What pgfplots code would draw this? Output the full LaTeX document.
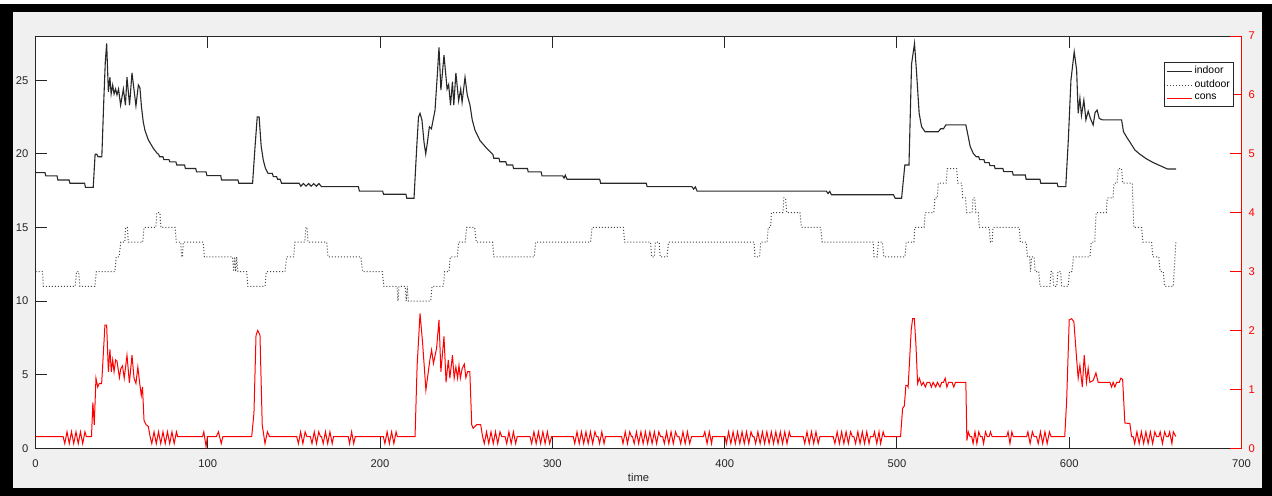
\documentclass[border=0pt]{standalone}
\usepackage{fontspec}
\setmainfont{Liberation Sans}
\usepackage{pgfplots}
\pgfplotsset{compat=1.18}

\definecolor{figbg}{RGB}{240,240,240}
\definecolor{axgray}{RGB}{38,38,38}
\definecolor{consred}{RGB}{255,0,0}
\definecolor{indoorc}{RGB}{40,40,40}
\definecolor{outdoorc}{RGB}{70,70,70}

\newcommand{\tickfont}{\fontsize{5.6}{6.2}\selectfont}
\newcommand{\legfont}{\fontsize{5.2}{5.8}\selectfont}

\pgfplotsset{
  indoorstyle/.style={indoorc, line width=0.55pt},
  outdoorstyle/.style={outdoorc, line width=0.5pt, dash pattern=on 0.5pt off 1pt},
  consstyle/.style={consred, line width=0.5pt},
  common/.style={
    scale only axis, width=603pt, height=206.15pt,
    at={(17.75pt,23.85pt)}, anchor=south west,
    xmin=0, xmax=700,
    tick align=inside, major tick length=5.85pt,
    /pgf/number format/assume math mode=true,
    tick label style={font=\tickfont},
  },
}

\begin{document}
\begin{tikzpicture}
% window frame and figure background
\fill[white] (0pt,0pt) rectangle (636pt,248pt);
\fill[black] (0pt,0pt) rectangle (636pt,246pt);
\fill[figbg] (6.5pt,4pt) rectangle (631pt,242pt);

% left axis: temperatures
\begin{axis}[common,
  axis background/.style={fill=white},
  ymin=0, ymax=28,
  xtick={0,100,...,700}, ytick={0,5,...,25},
  xtick pos=both, ytick pos=left,
  axis line style={axgray, line width=0.45pt},
  tick style={axgray, line width=0.45pt},
  ticklabel style={text=axgray},
  xticklabel style={yshift=-2.4pt},
  xlabel={time},
  xlabel style={font=\tickfont, text=axgray, at={(axis description cs:0.5,0)}, anchor=center, yshift=-14.35pt},
]
\addplot[indoorstyle] coordinates {
(0,18.72) (5.5,18.72) (6,18.5) (12.5,18.5) (13,18.22) (19.5,18.22) (20,18.0) (28.5,18.0) (29,17.72) (33.5,17.72)
(34.6,19.97) (35.6,19.97) (36.3,19.8) (38.5,19.8) (39.6,23.5) (40.5,26.2) (41.3,27.5) (42.3,24.2) (43.2,25.2) (43.9,24.06)
(44.8,24.67) (45.6,24.06) (46.5,24.4) (47.3,24.0) (48.2,24.4) (49.4,23.3) (51,24.4) (52.2,23.3) (53.1,25.2) (54.6,23.3)
(56,25.5) (58.3,23.25) (59.7,24.67) (60.6,24.5) (61.5,23.2) (62.5,22.2) (63.5,21.6) (65.5,20.94) (68.4,20.37) (70.5,20.05)
(71.5,19.95) (72,19.8) (74,19.8) (74.5,19.6) (77.5,19.6) (78,19.45) (81.5,19.45) (82,19.24) (86.5,19.24) (87,19.0)
(93,19.0) (93.5,18.77) (99,18.77) (99.5,18.52) (107.5,18.52) (108,18.22) (117.5,18.22) (118,18.0) (126,18.0) (127.5,20.6)
(128.7,22.5) (129.8,22.5) (131,20.5) (132.2,19.58) (133.5,19.0) (135,18.67) (137.5,18.67) (138,18.45) (140,18.45) (140.5,18.27)
(142,18.27) (142.8,18.0) (153,18.0) (154,17.8) (155.5,17.98) (157,17.8) (158.5,17.98) (160,17.8) (161.5,17.98) (163,17.8)
(164.5,17.98) (166,17.77) (187.4,17.77) (188,17.47) (201.5,17.47) (202,17.25) (215,17.25) (215.5,16.98) (219.7,16.98) (221.3,20.5)
(222.3,22.5) (223.2,22.75)
(224.3,22.3) (225.5,20.8) (226.5,19.99) (227.5,20.8) (228.6,21.84) (229.8,21.7) (231.9,22.97) (233.3,25.5) (234.2,27.23) (235.3,24.33)
(237.1,26.7) (238.9,24.4) (239.8,24.7) (240.9,23.3) (242,24.9) (242.8,23.3) (244,25.5) (245.6,23.6) (246.8,24.4) (247.6,23.5)
(249.3,25.2) (250.6,24.0) (252.2,23.3) (253.5,22.3) (255.1,21.6) (258,20.9) (261.9,20.37) (265.5,19.95) (266,19.7) (269,19.7)
(269.5,19.46) (273,19.46) (273.5,19.24) (277,19.24) (277.5,19.0) (285.5,19.0) (286,18.77) (293.5,18.77) (294,18.5) (306,18.5)
(306.8,18.35) (307.5,18.55) (308.5,18.27) (327.5,18.27) (328,18.0) (354.5,18.0) (355,17.77) (381,17.77) (382,17.6) (383,17.75)
(384,17.47) (459,17.47) (460,17.3) (461,17.45) (462,17.22) (498,17.22) (499,16.98) (502.7,16.98) (504.6,19.24) (507,19.24)
(508.5,26.1) (510.2,27.5) (511.4,25.5) (512.9,22.75) (514.3,21.84) (516.3,21.5) (524,21.5) (525.4,21.7) (527,21.7) (528.4,21.96)
(540,21.96) (541.4,21.16) (542.5,20.5) (544.3,20.03) (546,19.8) (547.5,19.8) (548,19.6) (550.5,19.6) (551,19.4) (553.5,19.4)
(554,19.2) (556.5,19.2) (557,19.0) (561.5,19.0) (562,18.79) (567,18.79) (567.5,18.56) (574.5,18.56) (575,18.27) (583,18.27)
(583.5,18.0) (593,18.0) (593.5,17.77) (598,17.77) (599.5,21) (601,25) (602.9,26.93) (604.3,25.7) (605.2,22.75) (606.2,23.77)
(607.1,22.6) (608.5,23.65) (609.7,22.3) (611,22.9) (612.3,22.4) (613.9,21.96) (615,22.8) (616.2,22.97) (617.4,22.4) (619.4,22.3)
(630.4,22.3) (631.5,21.5) (633.5,21.1) (635.2,20.8) (638.1,20.26) (641,19.97) (644.9,19.65) (648.8,19.4) (652.6,19.2) (657,18.97)
(662,18.97)
};
\addplot[outdoorstyle] coordinates {
(0,12) (4,12) (4.6,11) (23,11) (23.8,12) (25,12) (25.8,11) (34.5,11) (35.3,12) (46.1,12)
(46.8,13) (48.5,13) (49.5,14) (51.8,14) (52.3,15) (53.3,15) (53.9,14) (62.2,14) (63,15) (69.8,15)
(70.4,16) (72.2,16) (72.8,15) (81,15) (81.8,14) (84.3,14) (84.8,13) (85.3,13) (85.8,14) (97.4,14)
(98,13) (114.4,13) (115,12) (115.6,13) (116.2,12) (116.8,13) (117.5,12) (122.6,12) (123.3,11) (133.2,11)
(134,12) (144.8,12) (145.8,13) (149.8,13) (150.6,14) (156.3,14) (157,15) (157.6,15) (158.2,14) (169,14)
(169.8,13) (188.9,13) (189.8,12) (201.3,12) (202.2,11) (209.8,11) (210.4,10) (211,11) (214.6,11) (215.2,10)
(215.8,11) (216.4,10) (229.4,10) (230.2,11) (236.7,11) (237.5,12) (240,12) (240.8,13) (244.8,13) (245.5,14)
(249.4,14) (250.2,15) (254.9,15) (255.8,14) (265.3,14) (266,13) (289.5,13) (290.3,14) (322.2,14) (323,15)
(341.2,15) (342,14) (357,14) (357.6,13) (359.2,13) (359.8,14) (362,14) (362.6,13) (366.6,13) (367.4,14)
(417.1,14) (417.6,13) (420.2,13) (421,14) (424.6,14) (425.3,15) (426.6,15) (427.2,16) (433.8,16) (434.4,17)
(435.4,17) (436,16) (443.7,16) (444.6,15) (455.7,15) (456.6,14) (486.2,14) (486.7,13) (488.6,13) (489.2,14)
(491.6,14) (492.4,13) (504.6,13) (505.4,14) (509.8,14) (510.4,15) (515.8,15) (516.4,16) (521.4,16) (522,17)
(523.4,17) (524,18) (528.6,18) (529.2,19) (534.6,19) (535.3,18) (537.6,18) (538.2,17) (539.8,17) (540.5,16)
(543.6,16) (544.2,17) (545.2,17) (545.8,16) (547.2,16) (547.8,15) (553.6,15) (554.2,14) (555.2,14) (555.8,15)
(571,15) (571.6,14) (575.1,14) (575.7,13) (577,13) (577.5,12) (578.2,13) (579.6,13) (580.2,12) (582.4,12)
(583,11) (588.8,11) (589.5,12) (590.4,12) (591,11) (592.8,11) (593.4,12) (595,12) (595.6,11) (599.4,11)
(600.2,12) (601.6,12) (602.4,13) (612,13) (612.8,14) (614.8,14) (615.6,16) (621.5,16) (622.1,17) (625.4,17)
(626,18) (627.8,18) (628.5,19) (630.4,19) (631.1,18) (636.6,18) (637.5,15) (642,15) (642.8,14) (647.8,14)
(648.6,13) (652,13) (652.8,12) (654.6,12) (655.4,11) (660.4,11) (661.9,14)
};
\end{axis}

% right axis: consumption
\begin{axis}[common,
  ymin=0, ymax=7, ytick={0,1,...,7},
  axis x line=none, axis y line*=right,
  y axis line style={consred, line width=0.45pt},
  ytick style={consred, line width=0.45pt},
  yticklabel style={text=consred},
  legend style={at={(0.994,0.937)}, anchor=north east, draw=axgray, line width=0.4pt,
    fill=white, font=\legfont, inner xsep=1pt, inner ysep=1pt, row sep=-0.4pt,
    nodes={inner sep=1pt}},
  legend cell align=left,
  legend image code/.code={\draw[#1] (0pt,0pt) -- (12.5pt,0pt);},
]
\addlegendimage{indoorstyle}
\addlegendentry{indoor}
\addlegendimage{outdoorstyle}
\addlegendentry{outdoor}
\addplot[consstyle] coordinates {
(0,0.2) (16,0.2) (17,0.08) (18.3,0.28) (19.6,0.08) (20.9,0.28) (22.2,0.08) (23.5,0.28) (24.8,0.08) (26.1,0.28)
(27.4,0.08) (28.7,0.28) (29.5,0.2) (32.5,0.2) (33.3,0.78) (34.1,0.40) (35.1,1.19) (36.1,1.04) (37,1.1) (38.4,1.1)
(40.3,2.09) (41.3,2.09) (42.3,1.30) (43.2,1.68) (44,1.30) (44.8,1.50) (45.6,1.30) (46.5,1.50) (47.3,1.48) (48.7,1.2)
(49.5,1.35) (50.5,1.40) (51.5,1.19) (53.1,1.58) (54.5,1.11) (56,1.58) (57.2,1.19) (58.3,1.1) (59.4,1.38) (60.5,1.1)
(61.4,0.9) (62.1,1.04) (63,0.47) (64.2,0.40) (65.5,0.37) (66.5,0.2) (67.5,0.08) (68.8,0.28) (70.1,0.08) (71.4,0.28)
(72.7,0.08) (74,0.28) (75.3,0.08) (76.6,0.28) (77.9,0.08) (79.2,0.28) (80.5,0.08) (81.8,0.28) (82.5,0.2) (97,0.2)
(97.7,0.28) (99,0.03) (99.8,0.2) (105,0.2) (106.2,0.28) (107.8,0.08) (108.8,0.2) (125.5,0.2) (126.8,0.6) (128,1.92)
(129,2.0) (130.3,1.92) (131.6,0.4) (133.2,0.08) (134.6,0.28) (135.8,0.2) (151.6,0.2) (152.6,0.08) (153.9,0.28) (155.2,0.08)
(156.5,0.28) (157.5,0.2) (159.5,0.2) (160.5,0.08) (161.8,0.28) (163.1,0.08) (164.4,0.28) (165.4,0.2) (166,0.2) (167,0.08)
(168.3,0.28) (169.6,0.08) (170.9,0.28) (172.2,0.08) (173,0.2) (181.5,0.2) (182.3,0.08) (183.5,0.28) (184.7,0.08) (185.6,0.2)
(201.9,0.2) (202.8,0.08) (204.1,0.28) (205.4,0.08) (206.7,0.28) (208,0.08) (209.3,0.28) (210,0.2) (220.3,0.2) (221.5,1.4)
(223.2,2.29) (224.7,1.78) (226.6,0.99) (228.9,1.5) (229.9,1.67) (231,1.44) (232.8,1.70) (234.2,2.18) (235.3,1.30) (237.1,1.9)
(238.3,1.12) (239.6,1.5) (240.5,1.19) (242,1.58) (243,1.19) (244,1.38) (245,1.19) (245.8,1.41) (246.6,1.19) (247.6,1.35)
(248.9,1.43) (249.8,1.2) (250.8,1.3) (252.1,1.3) (253.2,0.4) (254,0.34) (256,0.40) (258.4,0.40) (259.5,0.2) (260.5,0.08)
(261.8,0.28) (263.1,0.08) (264.4,0.28) (265.7,0.08) (267,0.28) (268.3,0.08) (269.6,0.28) (270.6,0.2) (272.5,0.2) (273.5,0.08)
(274.8,0.28) (276.1,0.08) (277.4,0.28) (278.7,0.08) (279.6,0.2) (287,0.2) (288,0.08) (289.3,0.28) (290.6,0.08) (291.9,0.28)
(293.2,0.08) (294.5,0.28) (295.8,0.08) (297.1,0.28) (298.4,0.08) (299.6,0.2) (312.1,0.2) (313,0.08) (314.3,0.28) (315.6,0.08)
(316.9,0.28) (318.2,0.08) (319.5,0.28) (320.8,0.08) (322.1,0.28) (323.4,0.08) (324.7,0.28) (325.6,0.2) (326.5,0.2) (327.4,0.08)
(328.7,0.28) (330,0.08) (330.8,0.2) (340.2,0.2) (341,0.08) (342.3,0.28) (343.6,0.08) (344.9,0.28) (345.9,0.2) (346.5,0.2)
(347.5,0.08) (348.8,0.28) (350.1,0.08) (351.4,0.28) (352.7,0.08) (354,0.28) (355.3,0.08) (356.6,0.28) (357.9,0.08) (359.2,0.28)
(360.5,0.08) (361.8,0.28) (362.8,0.2) (364,0.2) (365,0.08) (366.3,0.28) (367.6,0.08) (368.9,0.28) (370.2,0.08) (371.5,0.28)
(372.5,0.2) (373.5,0.2) (374.5,0.08) (375.8,0.28) (377.1,0.08) (378.4,0.28) (379.7,0.08) (380.8,0.2) (387.6,0.2) (388.5,0.28)
(389.8,0.08) (391.1,0.28) (392.4,0.08) (393,0.2) (400.2,0.2) (401,0.08) (402.3,0.28) (403.6,0.08) (404.9,0.28) (406.2,0.08)
(407.5,0.28) (408.8,0.08) (410.1,0.28) (411.4,0.08) (412.7,0.28) (414,0.08) (415.3,0.28) (416.3,0.2) (417,0.2) (418,0.08)
(419.3,0.28) (420.6,0.08) (421.9,0.28) (423.2,0.08) (424.5,0.28) (425.8,0.08) (427.1,0.28) (428.4,0.08) (429.7,0.28) (431,0.08)
(432.3,0.28) (433.6,0.08) (434.9,0.28) (436.2,0.08) (437.5,0.28) (438.3,0.2) (445.6,0.2) (446.5,0.08) (447.8,0.28) (449.1,0.08)
(450.4,0.28) (451.7,0.08) (453,0.28) (454.3,0.08) (455.3,0.2) (463,0.2) (464,0.08) (465.3,0.28) (466.6,0.08) (467.9,0.28)
(469.2,0.08) (470.5,0.28) (471.8,0.08) (473.1,0.28) (474.1,0.2) (475,0.2) (476,0.08) (477.3,0.28) (478.6,0.08) (479.9,0.28)
(481.2,0.08) (482.5,0.28) (483.8,0.08) (484.6,0.2) (486.2,0.2) (487,0.28) (488.3,0.08) (489.6,0.28) (490.5,0.08) (492,0.28)
(492.8,0.2) (502.1,0.2) (503.3,0.68) (504.3,0.72) (505.2,1.07) (506,1.07) (506.5,1.04) (508.3,2.01) (509.1,2.2) (510.1,2.2)
(511,1.78) (512,1.10) (513,1.19) (514.3,1.07) (515.3,1.12) (516.5,1.04) (517.5,1.12) (519,1.12) (520,1.04) (521,1.12)
(522.5,1.04) (523.5,1.12) (525,1.04) (526,1.12) (527,1.12) (528,1.19) (529,1.04) (530,1.12) (532,1.12) (533,1.04)
(534,1.12) (540,1.12) (540.6,0.13) (541.4,0.28) (542.4,0.2) (543.4,0.2) (544.2,0.08) (545.3,0.28) (546.4,0.08) (547.5,0.28)
(548.5,0.2) (549.5,0.2) (550.3,0.08) (551.4,0.28) (552.4,0.2) (553.5,0.2) (554.3,0.28) (555.2,0.2) (563.7,0.2) (564.5,0.28)
(565.6,0.08) (566.7,0.28) (567.5,0.2) (575.3,0.2) (576,0.28) (577.3,0.08) (578.6,0.28) (579.6,0.2) (581,0.2) (582,0.08)
(583.3,0.28) (584.6,0.08) (585.9,0.28) (587.2,0.08) (588.5,0.28) (589.5,0.2) (597.4,0.2) (598.5,0.8) (600,2.18) (601.4,2.2)
(602.7,2.15) (604.3,1.52) (605.2,1.19) (606.2,1.41) (607.6,1.04) (608.7,1.58) (610,1.12) (611,1.36) (612,1.12) (613.9,1.15)
(615.5,1.28) (616.8,1.12) (623.6,1.12) (624.6,1.04) (625.5,1.12) (626.5,1.04) (627.5,1.12) (629,1.12) (630,1.19) (631,1.17)
(632.3,0.43) (635.2,0.42) (636.2,0.2) (637.1,0.2) (638,0.08) (639.3,0.28) (640.6,0.08) (641.9,0.28) (643.2,0.08) (644.5,0.28)
(645.8,0.08) (647.1,0.28) (648.4,0.08) (649.7,0.28) (650.7,0.2) (652,0.2) (652.8,0.28) (654.1,0.08) (655.4,0.28) (656.4,0.2)
(657.5,0.2) (658.3,0.28) (659.6,0.08) (660.4,0.28) (661.9,0.2)
};
\addlegendentry{cons}
\end{axis}
\end{tikzpicture}
\end{document}
